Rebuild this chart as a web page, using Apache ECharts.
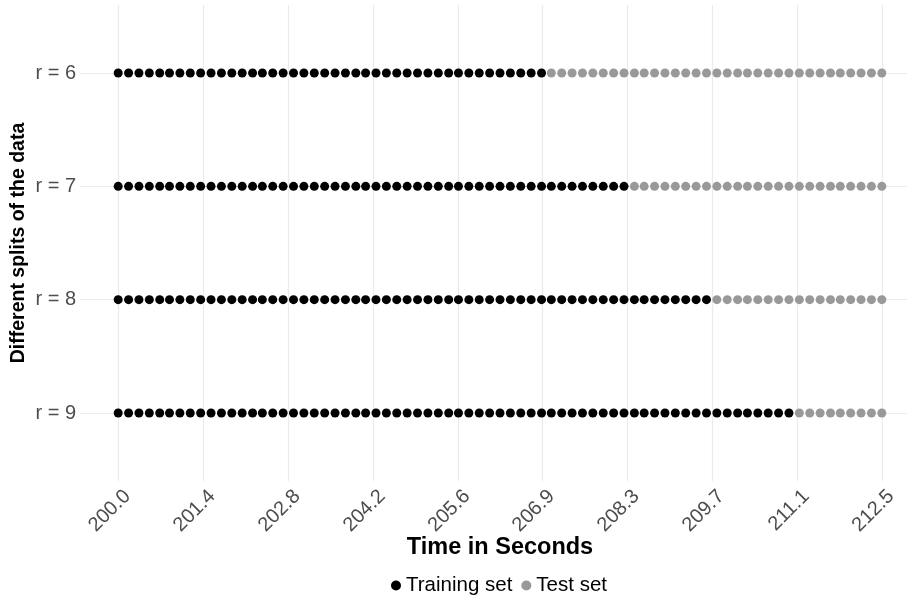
<!DOCTYPE html>
<html>
<head>
<meta charset="utf-8">
<script src="https://cdn.jsdelivr.net/npm/echarts@6/dist/echarts.min.js"></script>
<style>
  html, body { margin: 0; padding: 0; background: #ffffff; }
  #chart { width: 907px; height: 596px; }
</style>
</head>
<body>
<div id="chart"></div>
<script>
// ---- Data ----
const categories = ['r = 6', 'r = 7', 'r = 8', 'r = 9'];
const times = [
  200.00, 200.17, 200.34, 200.51, 200.68, 200.84, 201.01, 201.18, 201.35, 201.52,
  201.69, 201.86, 202.03, 202.20, 202.36, 202.53, 202.70, 202.87, 203.04, 203.21,
  203.38, 203.55, 203.72, 203.89, 204.05, 204.22, 204.39, 204.56, 204.73, 204.90,
  205.07, 205.24, 205.41, 205.57, 205.74, 205.91, 206.08, 206.25, 206.42, 206.59,
  206.76, 206.93, 207.09, 207.26, 207.43, 207.60, 207.77, 207.94, 208.11, 208.28,
  208.45, 208.61, 208.78, 208.95, 209.12, 209.29, 209.46, 209.63, 209.80, 209.97,
  210.14, 210.30, 210.47, 210.64, 210.81, 210.98, 211.15, 211.32, 211.49, 211.66,
  211.82, 211.99, 212.16, 212.33, 212.50
];
const trainCounts = [42, 50, 58, 66];   // number of training points per split
const xTickValues = [200.0, 201.39, 202.78, 204.17, 205.56, 206.94, 208.33, 209.72, 211.11, 212.5];
const xTickLabels = ['200.0', '201.4', '202.8', '204.2', '205.6', '206.9', '208.3', '209.7', '211.1', '212.5'];
const seriesNames = ['Training set', 'Test set'];

// ---- Build series data ----
const trainData = [];
const testData = [];
categories.forEach(function (c, i) {
  times.forEach(function (t, k) {
    if (k < trainCounts[i]) trainData.push([t, i + 1]);
    else testData.push([t, i + 1]);
  });
});

const FONT = '"Liberation Sans", Arial, Helvetica, sans-serif';
const chart = echarts.init(document.getElementById('chart'), null, { renderer: 'canvas' });
chart.setOption({
  animation: false,
  backgroundColor: '#ffffff',
  textStyle: { fontFamily: FONT },
  grid: { left: 80, right: -13, top: 5, bottom: 115, containLabel: false, outerBoundsMode: 'none' },
  xAxis: {
    type: 'value',
    min: 199.375,
    max: 213.125,
    name: 'Time in Seconds',
    nameLocation: 'middle',
    nameGap: 55,
    nameMoveOverlap: false,
    nameTextStyle: { fontFamily: FONT, fontSize: 23.5, fontWeight: 'bold', color: '#000000' },
    axisLine: { show: false },
    axisTick: { show: false, customValues: xTickValues },
    axisLabel: {
      customValues: xTickValues,
      rotate: 45,
      align: 'right',
      verticalAlign: 'top',
      margin: 3,
      padding: [3, 0, 0, 0],
      fontFamily: FONT,
      fontSize: 20,
      color: '#4d4d4d',
      formatter: function (v) {
        const idx = xTickValues.indexOf(v);
        return idx >= 0 ? xTickLabels[idx] : v.toFixed(1);
      }
    },
    splitLine: { show: true, lineStyle: { color: '#ebebeb', width: 1.2 } }
  },
  yAxis: {
    type: 'value',
    min: 0.4,
    max: 4.6,
    inverse: true,
    name: 'Different splits of the data',
    nameLocation: 'middle',
    nameRotate: 90,
    nameGap: 51,
    nameMoveOverlap: false,
    nameTextStyle: { fontFamily: FONT, fontSize: 19.5, fontWeight: 'bold', color: '#000000' },
    axisLine: { show: false },
    axisTick: { show: false, customValues: [1, 2, 3, 4] },
    axisLabel: {
      customValues: [1, 2, 3, 4],
      margin: 4,
      fontFamily: FONT,
      fontSize: 20,
      color: '#4d4d4d',
      formatter: function (v) { return categories[Math.round(v) - 1]; }
    },
    splitLine: { show: true, lineStyle: { color: '#ebebeb', width: 1.2 } }
  },
  legend: {
    data: seriesNames,
    left: 386,
    top: 570,
    orient: 'horizontal',
    icon: 'circle',
    itemWidth: 10,
    itemHeight: 10,
    itemGap: 9,
    itemStyle: { opacity: 1 },
    textStyle: { fontFamily: FONT, fontSize: 20.5, color: '#000000' }
  },
  series: [
    {
      name: seriesNames[0],
      type: 'scatter',
      data: trainData,
      symbol: 'circle',
      symbolSize: 9,
      itemStyle: { color: '#000000', opacity: 1 },
      emphasis: { disabled: true }
    },
    {
      name: seriesNames[1],
      type: 'scatter',
      data: testData,
      symbol: 'circle',
      symbolSize: 9,
      itemStyle: { color: '#999999', opacity: 1 },
      emphasis: { disabled: true }
    }
  ]
});
</script>
</body>
</html>
